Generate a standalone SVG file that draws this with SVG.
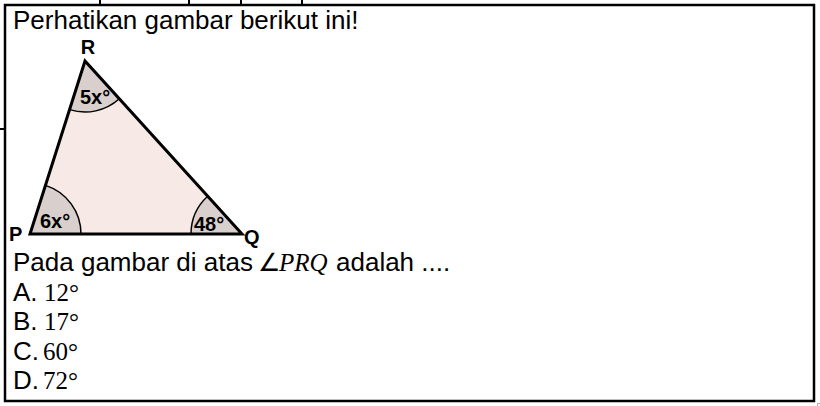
<svg xmlns="http://www.w3.org/2000/svg" width="820" height="406" viewBox="0 0 820 406">
<style>
.t{font-family:"Liberation Sans",Arial,sans-serif;font-size:26px;fill:#000}
.m{font-family:"Liberation Serif","Times New Roman",serif;font-size:25px;fill:#000}
.lb{font-family:"Liberation Sans",Arial,sans-serif;font-size:20px;font-weight:bold;fill:#000}
.al{font-family:"Liberation Sans",Arial,sans-serif;font-size:20px;font-weight:bold;fill:#000}
.sec{fill:#d9d0cd;stroke:#000;stroke-width:1.5}
.ln{stroke:#000;stroke-width:2}
</style>
<rect width="820" height="406" fill="#fff"/>
<g id="frame">
<rect x="5" y="5" width="809" height="396" fill="none" stroke="#000" stroke-width="2.5"/>
<line class="ln" x1="100" y1="0" x2="100" y2="5"/>
<line class="ln" x1="189" y1="0" x2="189" y2="5"/>
<line class="ln" x1="241" y1="0" x2="241" y2="5"/>
<line class="ln" x1="302" y1="0" x2="302" y2="5"/>
<line class="ln" x1="0" y1="129" x2="5" y2="129"/>
<path d="M817.5,406 V403.5 H820" fill="none" stroke="#aaa" stroke-width="1"/>
</g>
<text class="t" x="13" y="29">Perhatikan gambar berikut ini!</text>
<g id="triangle">
<polygon points="85,61 30,234 242,234" fill="#f6e9e6"/>
<path class="sec" d="M85,61 L69.5,109.6 A51,51 0 0 0 119.3,98.8 Z"/>
<path class="sec" d="M30,234 L81,234 A51,51 0 0 0 45.45,185.4 Z"/>
<path class="sec" d="M242,234 L191,234 A51,51 0 0 1 207.7,196.2 Z"/>
<polygon points="85,61 30,234 242,234" fill="none" stroke="#000" stroke-width="3" stroke-linejoin="miter"/>
<text class="al" x="80" y="104">5x°</text>
<text class="al" x="40" y="228">6x°</text>
<text class="al" x="194" y="231">48°</text>
<text class="lb" x="88" y="54" text-anchor="middle">R</text>
<text class="lb" x="9" y="241">P</text>
<text class="lb" x="244" y="244">Q</text>
</g>
<g id="question">
<text class="t" x="13" y="271">Pada gambar di atas</text>
<text class="m" x="258" y="271">∠</text>
<text class="m" x="279" y="271" font-style="italic">PRQ</text>
<text class="t" x="336" y="271">adalah ....</text>
</g>
<g id="options">
<text class="t" x="13" y="301">A.</text><text class="m" x="44" y="301">12°</text>
<text class="t" x="13" y="330">B.</text><text class="m" x="44" y="330">17°</text>
<text class="t" x="13" y="360">C.</text><text class="m" x="43" y="360">60°</text>
<text class="t" x="13" y="389">D.</text><text class="m" x="43" y="389">72°</text>
</g>
</svg>
